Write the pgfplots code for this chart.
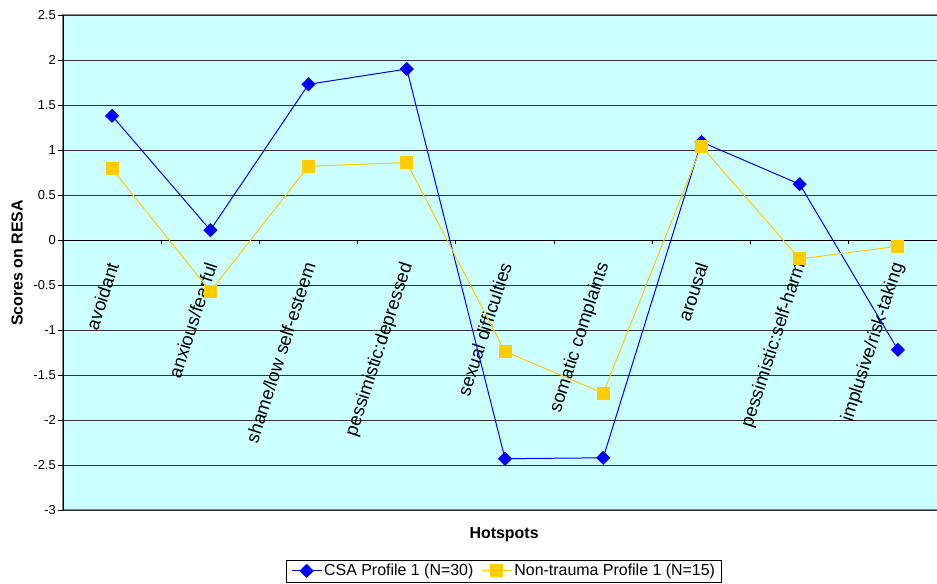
\documentclass[border=0pt]{standalone}
\usepackage{fontspec}
\setmainfont{Liberation Sans}
\usepackage{pgfplots}
\pgfplotsset{compat=1.18}
\definecolor{bgc}{HTML}{CCFFFF}
\definecolor{csa}{HTML}{0000FF}
\definecolor{nt}{HTML}{FFCC00}
\begin{document}
\begin{tikzpicture}
\useasboundingbox (-63bp,-74bp) rectangle (874bp,510bp);
\begin{axis}[
 at={(0,0)}, anchor=south west,
 scale only axis, width=884bp, height=495bp,
 xmin=-0.5, xmax=8.5, ymin=-3, ymax=2.5,
 axis x line*=middle, axis y line*=left,
 hide obscured x ticks=false, hide obscured y ticks=false,
 axis line style={black, line width=0.8bp},
 axis background/.style={fill=bgc, draw=gray, line width=1.5bp},
 ytick={-3,-2.5,-2,-1.5,-1,-0.5,0,0.5,1,1.5,2,2.5},
 ymajorgrids, grid style={black!80, line width=0.8bp},
 tick align=outside, major tick length=5bp,
 tick style={black, line width=0.8bp},
 xtick={0,1,2,3,4,5,6,7,8},
 xticklabels={avoidant, anxious/fearful, shame/low self-esteem, pessimistic:depressed, sexual difficulties, somatic complaints, arousal, pessimistic:self-harm, implusive/risk-taking},
 major x tick style={draw=none},
 xticklabel style={xshift=1bp, yshift=-18bp, rotate=72, anchor=east, font=\fontsize{18.5}{18.5}\selectfont, inner sep=0pt},
 yticklabel style={font=\fontsize{13}{13}\selectfont, inner sep=2bp},
 /pgf/number format/assume math mode=true,
 xlabel={Hotspots}, ylabel={Scores on RESA},
 xlabel style={at={(axis description cs:0.499,-0.0505)}, anchor=center, font=\fontsize{16}{16}\selectfont\bfseries},
 ylabel style={at={(axis description cs:-0.052,0.499)}, anchor=center, font=\fontsize{16}{16}\selectfont\bfseries},
 legend style={at={(axis description cs:0.499,-0.123)}, anchor=center, draw=black, font=\fontsize{16}{16}\selectfont, inner xsep=4.5bp, inner ysep=2.5bp, /tikz/every even column/.append style={column sep=6bp}},
 legend columns=2,
 legend cell align=left,
 legend image code/.code={\draw[mark repeat=2, mark phase=2] plot coordinates {(0bp,0bp) (15bp,0bp) (30bp,0bp)};},
]
\pgfplotsinvokeforeach{0.5,1.5,2.5,3.5,4.5,5.5,6.5,7.5}{
  \draw[black, line width=0.8bp] (axis cs:#1,0) -- ([yshift=-4bp]axis cs:#1,0);
}
\addplot[csa, line width=1bp, mark=square*, mark size=4.5bp, mark options={rotate=45, fill=csa, draw=csa}]
 coordinates {(0,1.38)(1,0.11)(2,1.73)(3,1.90)(4,-2.43)(5,-2.42)(6,1.09)(7,0.62)(8,-1.22)};
\addlegendentry{CSA Profile 1 (N=30)}
\addplot[nt, line width=1bp, mark=square*, mark size=6bp, mark options={fill=nt, draw=nt}]
 coordinates {(0,0.79)(1,-0.57)(2,0.82)(3,0.86)(4,-1.24)(5,-1.70)(6,1.04)(7,-0.21)(8,-0.07)};
\addlegendentry{Non-trauma Profile 1 (N=15)}
\end{axis}
\end{tikzpicture}
\end{document}
